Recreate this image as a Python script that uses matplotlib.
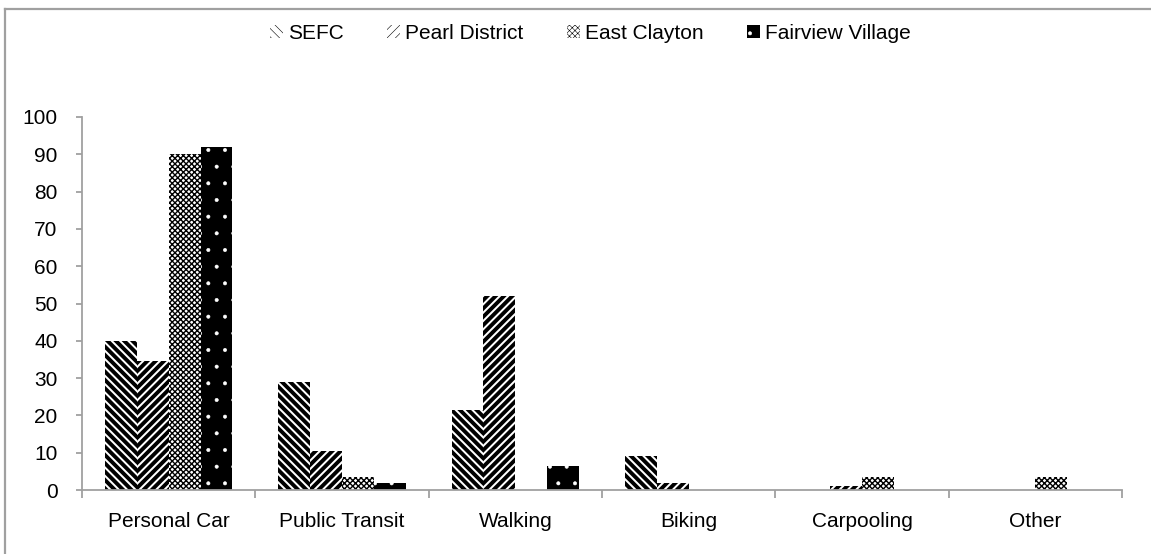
import numpy as np
import matplotlib
matplotlib.use('Agg')
import matplotlib.pyplot as plt
from matplotlib.lines import Line2D

plt.rcParams['font.family'] = ['Liberation Sans', 'DejaVu Sans']

categories = ['Personal Car', 'Public Transit', 'Walking', 'Biking', 'Carpooling', 'Other']
series = ['SEFC', 'Pearl District', 'East Clayton', 'Fairview Village']
sefc = [40, 29, 21.5, 9, 0, 0]
pearl = [34.5, 10.5, 52, 2, 1, 0]
east_clayton = [90, 3.5, 0, 0, 3.5, 3.5]
fairview = [92, 2, 6.5, 0, 0, 0]
yticks = [0, 10, 20, 30, 40, 50, 60, 70, 80, 90, 100]

values = [sefc, pearl, east_clayton, fairview]
styles = [
    dict(facecolor='white', edgecolor='black', hatch='\\\\\\\\', hlw=2.8),
    dict(facecolor='white', edgecolor='black', hatch='////', hlw=2.8),
    dict(facecolor='white', edgecolor='black', hatch='xxxxxx', hlw=1.0),
    dict(facecolor='black', edgecolor='white', hatch='.', hlw=0.4),
]

fig = plt.figure(figsize=(11.51, 5.54), dpi=100)
ax = fig.add_axes([82 / 1151, 1 - 490 / 554, (1122 - 82) / 1151, (490 - 117) / 554])

x = np.arange(len(categories))
w = 0.184
for j, (vals, st) in enumerate(zip(values, styles)):
    plt.rcParams['hatch.linewidth'] = st['hlw']
    bars = ax.bar(x + (j - 1.5) * w, vals, w, color=st['facecolor'],
                  edgecolor=st['edgecolor'], hatch=st['hatch'], linewidth=0,
                  label=series[j])
    for b in bars:
        if hasattr(b, 'set_hatch_linewidth'):
            b.set_hatch_linewidth(st['hlw'])

ax.set_xlim(-0.5, len(categories) - 0.5)
ax.set_ylim(0, 100)
ax.set_yticks(yticks)
ax.set_xticks(x)
ax.set_xticklabels(categories)
ax.set_xticks(np.arange(len(categories) + 1) - 0.5, minor=True)

gray = '#a0a0a0'
for s in ['top', 'right']:
    ax.spines[s].set_visible(False)
for s in ['left', 'bottom']:
    ax.spines[s].set_color(gray)
    ax.spines[s].set_linewidth(1.3)

ax.tick_params(axis='y', length=4.5, width=1.3, color=gray, pad=13, labelsize=15)
ax.tick_params(axis='x', which='major', length=0, pad=16, labelsize=15)
ax.tick_params(axis='x', which='minor', length=6, width=1.3, color=gray)

leg = fig.legend(loc='center', bbox_to_anchor=(0.513, 0.94), ncol=4, frameon=False,
                 fontsize=15, handlelength=0.6, handleheight=0.6,
                 handletextpad=0.25, columnspacing=2.1)

# outer chart border (top and left edges visible)
fig.add_artist(Line2D([5 / 1151, 5 / 1151], [0, 1 - 9 / 554], transform=fig.transFigure,
                      color=gray, linewidth=1.6))
fig.add_artist(Line2D([5 / 1151, 1], [1 - 9 / 554, 1 - 9 / 554], transform=fig.transFigure,
                      color=gray, linewidth=1.6))

fig.savefig('out.png', dpi=100)
